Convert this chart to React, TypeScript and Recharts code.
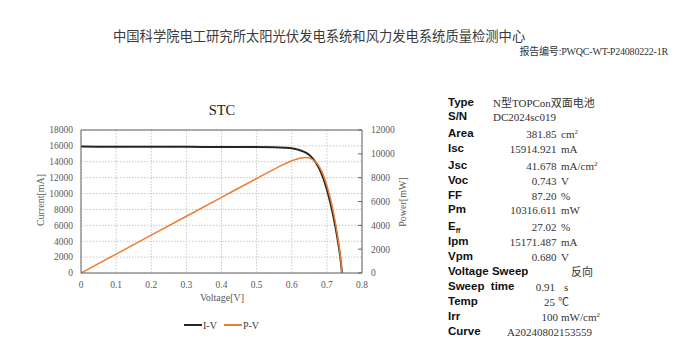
import React from 'react';
import { LineChart, Line, XAxis, YAxis, CartesianGrid, ReferenceLine, Legend } from 'recharts';

const voltage = [0, 0.1, 0.2, 0.3, 0.4, 0.5, 0.55, 0.58, 0.6, 0.62, 0.64, 0.65, 0.66, 0.67, 0.68, 0.69, 0.7, 0.71, 0.72, 0.73, 0.74, 0.743];
const current = [15915, 15900, 15890, 15880, 15870, 15860, 15840, 15780, 15700, 15500, 15150, 14850, 14400, 13800, 13000, 11900, 10500, 8800, 6800, 4400, 1300, 0];
const power = [0, 1590, 3178, 4764, 6348, 7930, 8712, 9152, 9420, 9610, 9696, 9650, 9504, 9246, 8840, 8211, 7350, 6248, 4896, 3212, 962, 0];
const xTicks = [0, 0.1, 0.2, 0.3, 0.4, 0.5, 0.6, 0.7, 0.8];
const currentTicks = [0, 2000, 4000, 6000, 8000, 10000, 12000, 14000, 16000, 18000];
const powerTicks = [0, 2000, 4000, 6000, 8000, 10000, 12000];

const seriesNames = ['I-V', 'P-V'];
const seriesColors = ['#262626', '#ED7D31'];

const headerTitle = '中国科学院电工研究所太阳光伏发电系统和风力发电系统质量检测中心';
const reportNo = '报告编号:PWQC-WT-P24080222-1R';
const chartTitle = 'STC';
const xLabel = 'Voltage[V]';
const yLeftLabel = 'Current[mA]';
const yRightLabel = 'Power[mW]';

const infoLabels = ['Type', 'S/N', 'Area', 'Isc', 'Jsc', 'Voc', 'FF', 'Pm', 'Eff', 'Ipm', 'Vpm', 'Voltage Sweep', 'Sweep\u00a0 time', 'Temp', 'Irr', 'Curve'];
const infoValues = ['N型TOPCon双面电池', 'DC2024sc019', '381.85', '15914.921', '41.678', '0.743', '87.20', '10316.611', '27.02', '15171.487', '0.680', '反向', '0.91', '25', '100', 'A20240802153559'];
const infoUnits = ['', '', 'cm²', 'mA', 'mA/cm²', 'V', '%', 'mW', '%', 'mA', 'V', '', 's', '℃', 'mW/cm²', ''];

const data = voltage.map((v, k) => ({ v, i: current[k], p: power[k] }));

const SERIF = '"Liberation Serif", "Times New Roman", "Noto Sans CJK SC", serif';
const SANS = '"Liberation Sans", Arial, sans-serif';
const TICK_COLOR = '#595959';
const BORDER = '#666666';
const PLOT_RIGHT = 362;

const rowY = [102.5, 117, 134, 149, 166, 180.5, 195.5, 210, 226.5, 241.5, 256.5, 271.5, 286.5, 301.5, 316.5, 331.5];

function RightTick(props: any) {
  const { x, y, payload } = props;
  return (
    <g>
      <line x1={PLOT_RIGHT - 4} x2={PLOT_RIGHT} y1={y} y2={y} stroke={BORDER} strokeWidth={1} />
      <text x={x} y={y} dy="0.355em" textAnchor="start" fill={TICK_COLOR} fontSize={9.5} fontFamily={SERIF}>
        {payload.value}
      </text>
    </g>
  );
}

function LegendContent() {
  return (
    <div style={{ display: 'flex', alignItems: 'center', height: 14, fontFamily: SERIF, fontSize: 10, color: '#404040' }}>
      {seriesNames.map((n, k) => (
        <div key={n} style={{ display: 'flex', alignItems: 'center', marginRight: k === 0 ? 7 : 0 }}>
          <div style={{ width: 18, height: k === 0 ? 2 : 1.6, background: seriesColors[k], marginRight: 1 }} />
          <span>{n}</span>
        </div>
      ))}
    </div>
  );
}

function Unit({ u }: { u: string }) {
  if (u.endsWith('²')) {
    return (
      <span>
        {u.slice(0, -1)}
        <span style={{ fontSize: 7, position: 'relative', top: -4 }}>2</span>
      </span>
    );
  }
  return <span>{u}</span>;
}

export default function App() {
  const abs = (l: number, t: number, extra: React.CSSProperties = {}): React.CSSProperties => ({
    position: 'absolute', left: l, top: t, whiteSpace: 'nowrap', ...extra,
  });
  return (
    <div style={{ position: 'absolute', left: 0, top: 0, width: 699, height: 359, background: '#fff', overflow: 'hidden' }}>
      <div style={abs(113, 37, { transform: 'translateY(-50%)', fontFamily: SERIF, fontSize: 13.3, color: '#3a3a3a', lineHeight: 1 })}>
        {headerTitle}
      </div>
      <div style={abs(668, 52, { transform: 'translate(-100%, -50%)', fontFamily: SERIF, fontSize: 10, color: '#333', lineHeight: 1, letterSpacing: -0.2 })}>
        {reportNo}
      </div>

      <LineChart width={420} height={359} data={data} margin={{ top: 130, right: 18, bottom: 42, left: 31 }} style={{ position: 'absolute', left: 0, top: 0 }}>
        <CartesianGrid yAxisId="I" stroke="#c8c8c8" strokeWidth={1} strokeDasharray="1.5 1.5" horizontalValues={currentTicks} verticalValues={xTicks} />
        <XAxis dataKey="v" type="number" domain={[0, 0.8]} ticks={xTicks} interval={0} tickLine={false} tickSize={0} tickMargin={8}
          axisLine={{ stroke: BORDER }} tick={{ fill: TICK_COLOR, fontSize: 9.5, fontFamily: SERIF }} height={30} allowDataOverflow />
        <YAxis yAxisId="I" orientation="left" domain={[0, 18000]} ticks={currentTicks} interval={0} tickLine={false} tickSize={0} tickMargin={8}
          axisLine={{ stroke: BORDER }} tick={{ fill: TICK_COLOR, fontSize: 9.5, fontFamily: SERIF }} width={50} />
        <YAxis yAxisId="P" orientation="right" domain={[0, 12000]} ticks={powerTicks} interval={0} tickLine={false} tickSize={0} tickMargin={9}
          axisLine={{ stroke: BORDER }} tick={<RightTick />} width={40} />
        <ReferenceLine yAxisId="I" y={18000} stroke={BORDER} />
        <Line yAxisId="I" dataKey="i" name={seriesNames[0]} type="monotone" stroke={seriesColors[0]} strokeWidth={2} dot={false} isAnimationActive={false} />
        <Line yAxisId="P" dataKey="p" name={seriesNames[1]} type="monotone" stroke={seriesColors[1]} strokeWidth={1.5} dot={false} isAnimationActive={false} />
        <Legend content={<LegendContent />} wrapperStyle={{ position: 'absolute', left: 184, top: 318, width: 100, height: 14 }} />
      </LineChart>

      <div style={abs(222, 110, { transform: 'translate(-50%, -50%)', fontFamily: SERIF, fontSize: 14.5, color: '#222', lineHeight: 1 })}>
        {chartTitle}
      </div>
      <div style={abs(222, 298, { transform: 'translate(-50%, -50%)', fontFamily: SERIF, fontSize: 10, color: TICK_COLOR, lineHeight: 1 })}>
        {xLabel}
      </div>
      <div style={abs(41, 200, { transform: 'translate(-50%, -50%) rotate(-90deg)', fontFamily: SERIF, fontSize: 10, color: TICK_COLOR, lineHeight: 1 })}>
        {yLeftLabel}
      </div>
      <div style={abs(403, 202, { transform: 'translate(-50%, -50%) rotate(-90deg)', fontFamily: SERIF, fontSize: 10, color: TICK_COLOR, lineHeight: 1 })}>
        {yRightLabel}
      </div>

      {infoLabels.map((lab, k) => {
        const y = rowY[k];
        const val = infoValues[k];
        const unit = infoUnits[k];
        const labelStyle = abs(448, y, { transform: 'translateY(-50%)', fontFamily: SANS, fontWeight: 700, fontSize: 11.5, color: '#111', lineHeight: 1 });
        const valFont: React.CSSProperties = { fontFamily: SERIF, fontSize: 11, color: '#333', lineHeight: 1 };
        let valueNode: React.ReactNode;
        if (k <= 1) {
          valueNode = <div style={abs(493, y, { transform: 'translateY(-50%)', ...valFont })}>{val}</div>;
        } else if (k === 11) {
          valueNode = <div style={abs(571, y, { transform: 'translateY(-50%)', ...valFont })}>{val}</div>;
        } else if (k === 15) {
          valueNode = <div style={abs(507, y, { transform: 'translateY(-50%)', ...valFont })}>{val}</div>;
        } else {
          const end = k === 12 || k === 13 ? 555 : k === 14 ? 558 : 556.5;
          const ux = k === 12 ? 564 : k === 13 ? 558 : 561;
          valueNode = (
            <>
              <div style={abs(end, y, { transform: 'translate(-100%, -50%)', ...valFont })}>{val}</div>
              <div style={abs(ux, y, { transform: 'translateY(-50%)', ...valFont })}><Unit u={unit} /></div>
            </>
          );
        }
        return (
          <React.Fragment key={k}>
            <div style={labelStyle}>
              {lab === 'Eff' ? (
                <span>E<span style={{ fontSize: 7, position: 'relative', top: 3 }}>ff</span></span>
              ) : lab}
            </div>
            {valueNode}
          </React.Fragment>
        );
      })}
    </div>
  );
}
